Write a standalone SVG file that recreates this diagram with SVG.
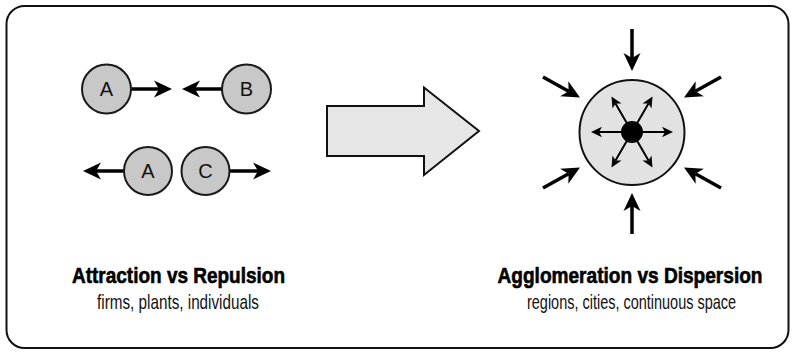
<svg xmlns="http://www.w3.org/2000/svg" width="795" height="354" viewBox="0 0 795 354">
  <defs>
    <style>
      .frame { fill: #ffffff; stroke: #111111; stroke-width: 2; }
      .node { fill: #c8c8c8; stroke: #1a1a1a; stroke-width: 2; }
      .lbl { font-family: "Liberation Sans", Arial, sans-serif; font-size: 20px; fill: #111111; text-anchor: middle; }
      .thick { fill: none; stroke: #000000; stroke-width: 3.5; marker-end: url(#bigHead); }
      .thin { fill: none; stroke: #000000; stroke-width: 2; marker-end: url(#smallHead); }
      .title { font-family: "Liberation Sans", Arial, sans-serif; font-size: 22px; font-weight: bold; fill: #000000; stroke: #000000; stroke-width: 0.6; text-anchor: middle; }
      .sub { font-family: "Liberation Sans", Arial, sans-serif; font-size: 20px; fill: #111111; text-anchor: middle; }
    </style>
    <marker id="bigHead" markerUnits="userSpaceOnUse" markerWidth="20" markerHeight="18" refX="5" refY="8.5" orient="auto" overflow="visible">
      <path d="M0,0 L18,8.5 L0,17 L5,8.5 Z" fill="#000000"/>
    </marker>
    <marker id="smallHead" markerUnits="userSpaceOnUse" markerWidth="12" markerHeight="11" refX="3" refY="5.2" orient="auto" overflow="visible">
      <path d="M0,0 L11,5.2 L0,10.4 L3,5.2 Z" fill="#000000"/>
    </marker>
  </defs>

  <rect class="frame" x="6.5" y="6" width="782" height="342" rx="18" ry="18"/>

  <g id="connectors">
    <!-- left: attraction -->
    <path class="thick" d="M131,89 H159"/>
    <path class="thick" d="M223,89 H195"/>
    <!-- left: repulsion -->
    <path class="thick" d="M124,171 H96"/>
    <path class="thick" d="M229,171 H258"/>
    <!-- right: inward arrows -->
    <path class="thick" d="M632,29 V58"/>
    <path class="thick" d="M632,234 V206"/>
    <path class="thick" d="M543,77 L568.6,91.2"/>
    <path class="thick" d="M721,77 L695.4,91.2"/>
    <path class="thick" d="M543,188 L568.6,173.8"/>
    <path class="thick" d="M721,188 L695.4,173.8"/>
  </g>

  <g id="node-A1">
    <circle class="node" cx="106.5" cy="89" r="24.5"/>
    <text class="lbl" x="106.5" y="96">A</text>
  </g>
  <g id="node-B">
    <circle class="node" cx="246.5" cy="89" r="24.5"/>
    <text class="lbl" x="246.5" y="96">B</text>
  </g>
  <g id="node-A2">
    <circle class="node" cx="148" cy="171" r="24"/>
    <text class="lbl" x="148" y="178">A</text>
  </g>
  <g id="node-C">
    <circle class="node" cx="205.5" cy="171" r="24"/>
    <text class="lbl" x="205.5" y="178">C</text>
  </g>

  <g id="big-arrow">
    <path d="M327,106 H424 V87.5 L479,131 L424,175 V156 H327 Z" fill="#e6e6e6" stroke="#111111" stroke-width="2" stroke-linejoin="miter"/>
  </g>

  <g id="node-region">
    <circle cx="632" cy="132.5" r="52.5" fill="#e2e2e2" stroke="#111111" stroke-width="2"/>
    <path class="thin" d="M632,132 H665"/>
    <path class="thin" d="M632,132 H599"/>
    <path class="thin" d="M632,132 L648.5,103.4"/>
    <path class="thin" d="M632,132 L615.5,103.4"/>
    <path class="thin" d="M632,132 L648.5,160.6"/>
    <path class="thin" d="M632,132 L615.5,160.6"/>
    <circle cx="632" cy="132" r="11" fill="#000000"/>
  </g>

  <g id="label-left">
    <text class="title" transform="translate(178.5,282.5) scale(0.85,1)" x="0" y="0" textLength="250.6" lengthAdjust="spacingAndGlyphs">Attraction vs Repulsion</text>
    <text class="sub" transform="translate(178,308.5) scale(0.75,1)" x="0" y="0" textLength="216" lengthAdjust="spacingAndGlyphs">firms, plants, individuals</text>
  </g>
  <g id="label-right">
    <text class="title" transform="translate(630,282.5) scale(0.85,1)" x="0" y="0" textLength="311.8" lengthAdjust="spacingAndGlyphs">Agglomeration vs Dispersion</text>
    <text class="sub" transform="translate(631.5,308.5) scale(0.75,1)" x="0" y="0" textLength="278.7" lengthAdjust="spacingAndGlyphs">regions, cities, continuous space</text>
  </g>
</svg>
